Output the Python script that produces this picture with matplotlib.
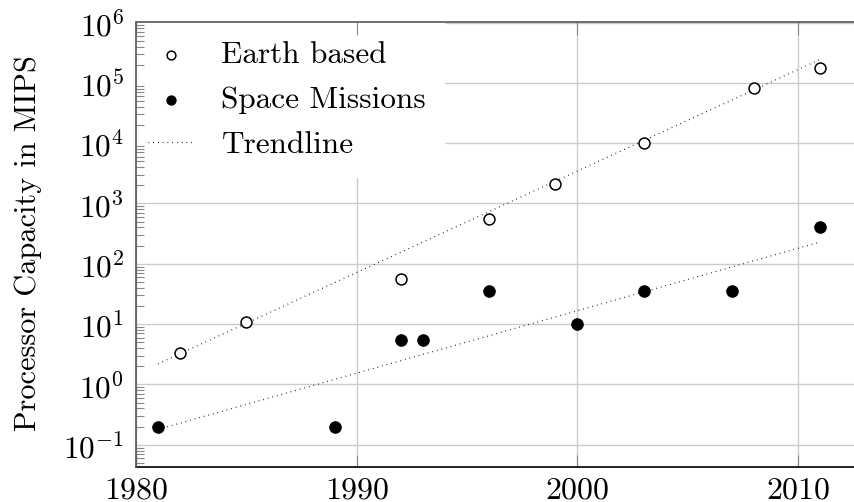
import matplotlib
matplotlib.use("Agg")
import matplotlib.pyplot as plt
from matplotlib.ticker import LogLocator, NullFormatter
from matplotlib.lines import Line2D

plt.rcParams['font.family'] = ['cmr10', 'DejaVu Serif']
plt.rcParams['mathtext.fontset'] = 'cm'
plt.rcParams['axes.formatter.use_mathtext'] = True

earth_years = [1982, 1985, 1992, 1996, 1999, 2003, 2008, 2011]
earth_mips = [3.3, 11, 55, 550, 2100, 10000, 82000, 175000]
space_years = [1981, 1989, 1992, 1993, 1996, 2000, 2003, 2007, 2011]
space_mips = [0.2, 0.2, 5.4, 5.4, 35, 10, 35, 35, 400]
trend_years = [1981, 2011]
earth_trend = [2.2, 245000]
space_trend = [0.18, 230]
x_ticks = [1980, 1990, 2000, 2010]

W, H = 854.5, 502.5
rect = [136 / W, 1 - 467 / H, 1 - 136 / W, (467 - 23) / H]
fig = plt.figure(figsize=(W / 100, H / 100), dpi=100)
ax = fig.add_axes(rect)

xlim = (1980, 2012.55)
ylim = (10**-1.36, 1e6)
ax.set_yscale('log')
ax.set_xlim(*xlim)
ax.set_ylim(*ylim)

dots = (0, (0.6, 3.2))
ax.plot(trend_years, earth_trend, linestyle=dots, color='black', lw=0.9, zorder=3)
ax.plot(trend_years, space_trend, linestyle=dots, color='black', lw=0.9, zorder=3)

h1 = ax.scatter(earth_years, earth_mips, s=62, facecolors='white', edgecolors='black', linewidths=1.1, zorder=4)
h2 = ax.scatter(space_years, space_mips, s=68, facecolors='black', edgecolors='black', linewidths=0.8, zorder=4)
h3 = Line2D([], [], linestyle=dots, color='black', lw=0.9)

ax.set_xticks(x_ticks)
ax.set_xticklabels([str(t) for t in x_ticks])
ax.yaxis.set_major_locator(LogLocator(base=10, numticks=20))
ax.yaxis.set_minor_locator(LogLocator(base=10, subs=range(2, 10), numticks=20))
ax.yaxis.set_minor_formatter(NullFormatter())

ax.grid(True, which='major', color='#cccccc', lw=1.0)
ax.tick_params(axis='x', which='major', direction='in', length=9, color='#888888', labelsize=23, pad=7.0, top=False)
ax.tick_params(axis='y', which='major', direction='in', length=0, labelsize=22.5, pad=8.6)
ax.tick_params(axis='y', which='minor', length=0)

for s in ['left', 'top', 'right']:
    ax.spines[s].set_visible(False)
ax.spines['bottom'].set_color('black')
ax.spines['bottom'].set_linewidth(1.2)

ax.set_ylabel('Processor Capacity in MIPS', fontsize=21.8)
ax.yaxis.set_label_coords(-0.131, 0.5045)

ax_w = W - 136
leg = ax.legend([h1, h2, h3], ['Earth based', 'Space Missions', 'Trendline'], loc='upper left',
                bbox_to_anchor=(-6.3 / ax_w, 1.0),
                fontsize=22.5, frameon=True, fancybox=False, edgecolor='white', framealpha=1.0,
                borderaxespad=0.0, borderpad=0.585, handlelength=1.45, handletextpad=0.9, labelspacing=0.55,
                markerscale=0.8)
leg.set_zorder(5)

# overlay axes: frame lines and small ticks drawn above the legend box
ax2 = fig.add_axes(rect, sharex=None)
ax2.set_zorder(ax.get_zorder() + 1)
ax2.patch.set_visible(False)
ax2.set_yscale('log')
ax2.set_xlim(*xlim)
ax2.set_ylim(*ylim)
ax2.set_xticks(x_ticks)
ax2.yaxis.set_major_locator(LogLocator(base=10, numticks=20))
ax2.yaxis.set_minor_locator(LogLocator(base=10, subs=range(2, 10), numticks=20))
ax2.yaxis.set_minor_formatter(NullFormatter())
ax2.tick_params(axis='x', which='major', direction='in', length=9, color='#888888',
                bottom=False, top=True, labelbottom=False, labeltop=False)
ax2.tick_params(axis='y', which='major', length=0, labelleft=False)
ax2.tick_params(axis='y', which='minor', direction='in', length=6, color='#888888', width=0.8)
for s in ['left', 'top']:
    ax2.spines[s].set_color('#555555')
    ax2.spines[s].set_linewidth(1.2)
ax2.spines['bottom'].set_visible(False)
ax2.spines['right'].set_visible(False)

fig.savefig('out.png', dpi=100)
